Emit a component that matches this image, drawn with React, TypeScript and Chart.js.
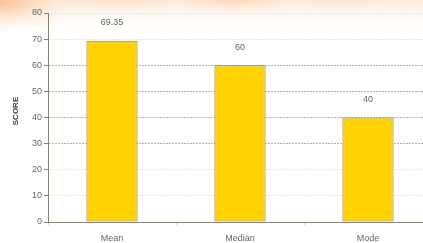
import React, { useEffect, useRef } from "react";
import { Chart, registerables } from "chart.js";

Chart.register(...registerables);

const categories = ["Mean", "Median", "Mode"];
const scores = [69.35, 60, 40];
const valueLabels = ["69.35", "60", "40"];
const yTicks = [0, 10, 20, 30, 40, 50, 60, 70, 80];

const FONT = "'Liberation Sans', Arial, sans-serif";

const bgPlugin = {
  id: "bgPlugin",
  beforeDraw(chart: any) {
    const ctx = chart.ctx;
    const w = chart.width;
    const h = chart.height;
    ctx.save();
    ctx.fillStyle = "#ffffff";
    ctx.fillRect(0, 0, w, h);
    const lg = ctx.createLinearGradient(0, 0, 0, 34);
    lg.addColorStop(0, "rgba(252,215,185,0.55)");
    lg.addColorStop(1, "rgba(255,255,255,0)");
    ctx.fillStyle = lg;
    ctx.fillRect(0, 0, w, 34);
    const blobs = [
      { x: 0, y: 2, rx: 80, ry: 34, a: 0.6 },
      { x: 120, y: -8, rx: 90, ry: 22, a: 0.3 },
      { x: 235, y: -4, rx: 70, ry: 20, a: 0.4 },
      { x: 340, y: -8, rx: 80, ry: 20, a: 0.2 },
    ];
    for (const b of blobs) {
      ctx.save();
      ctx.translate(b.x, b.y);
      ctx.scale(b.rx / b.ry, 1);
      const g = ctx.createRadialGradient(0, 0, 0, 0, 0, b.ry);
      g.addColorStop(0, `rgba(245,160,95,${b.a})`);
      g.addColorStop(0.5, `rgba(250,190,140,${b.a * 0.45})`);
      g.addColorStop(1, "rgba(255,230,210,0)");
      ctx.fillStyle = g;
      ctx.beginPath();
      ctx.arc(0, 0, b.ry, 0, Math.PI * 2);
      ctx.fill();
      ctx.restore();
    }
    ctx.restore();
  },
};

const labelPlugin = {
  id: "labelPlugin",
  afterDatasetsDraw(chart: any) {
    const ctx = chart.ctx;
    const meta = chart.getDatasetMeta(0);
    ctx.save();
    ctx.font = `9px ${FONT}`;
    ctx.fillStyle = "#666666";
    ctx.textAlign = "center";
    ctx.textBaseline = "middle";
    meta.data.forEach((bar: any, i: number) => {
      ctx.fillText(valueLabels[i], bar.x, bar.y - 18);
    });
    ctx.translate(16, 111);
    ctx.rotate(-Math.PI / 2);
    ctx.font = `bold 8px ${FONT}`;
    ctx.fillStyle = "#444444";
    ctx.fillText("SCORE", 0, 0);
    ctx.restore();
  },
};

export default function App() {
  const ref = useRef<HTMLCanvasElement>(null);
  useEffect(() => {
    if (!ref.current) return;
    const chart = new Chart(ref.current, {
      type: "bar",
      data: {
        labels: categories,
        datasets: [
          {
            data: scores,
            backgroundColor: "#FFD200",
            borderColor: "#858070",
            borderWidth: 1,
            borderSkipped: false,
            categoryPercentage: 1,
            barPercentage: 0.4,
          },
        ],
      },
      options: {
        responsive: false,
        animation: false,
        layout: { padding: { top: 13, right: 0, left: 0, bottom: 0 } },
        plugins: { legend: { display: false }, tooltip: { enabled: false } },
        scales: {
          x: {
            offset: true,
            grid: {
              offset: true,
              drawOnChartArea: false,
              drawTicks: true,
              tickLength: 3,
              tickColor: "#e8d890",
            },
            border: { color: "#8c8468", width: 1 },
            ticks: { font: { family: FONT, size: 9 }, color: "#666666", padding: 8 },
            afterFit: (s: any) => {
              s.height = 21;
            },
          },
          y: {
            min: 0,
            max: 80,
            afterBuildTicks: (s: any) => {
              s.ticks = yTicks.map((v) => ({ value: v }));
            },
            grid: {
              color: (c: any) => {
                const v = c.tick && c.tick.value;
                if (v === 0) return "rgba(0,0,0,0)";
                if (v >= 30 && v <= 60) return "#b4b4b4";
                return "#e6e6e6";
              },
              tickLength: 4,
              tickColor: "#8c8468",
              tickBorderDash: [],
            } as any,
            border: { color: "#8c8468", width: 1, dash: [2, 1] } as any,
            ticks: { font: { family: FONT, size: 9 }, color: "#666666", padding: 2 },
            afterFit: (s: any) => {
              s.width = 48;
            },
          },
        },
      },
      plugins: [bgPlugin, labelPlugin],
    });
    return () => chart.destroy();
  }, []);
  return (
    <div style={{ position: "fixed", left: 0, top: 0, width: 423, height: 243, overflow: "hidden" }}>
      <canvas ref={ref} width={432} height={243} style={{ display: "block" }} />
    </div>
  );
}
